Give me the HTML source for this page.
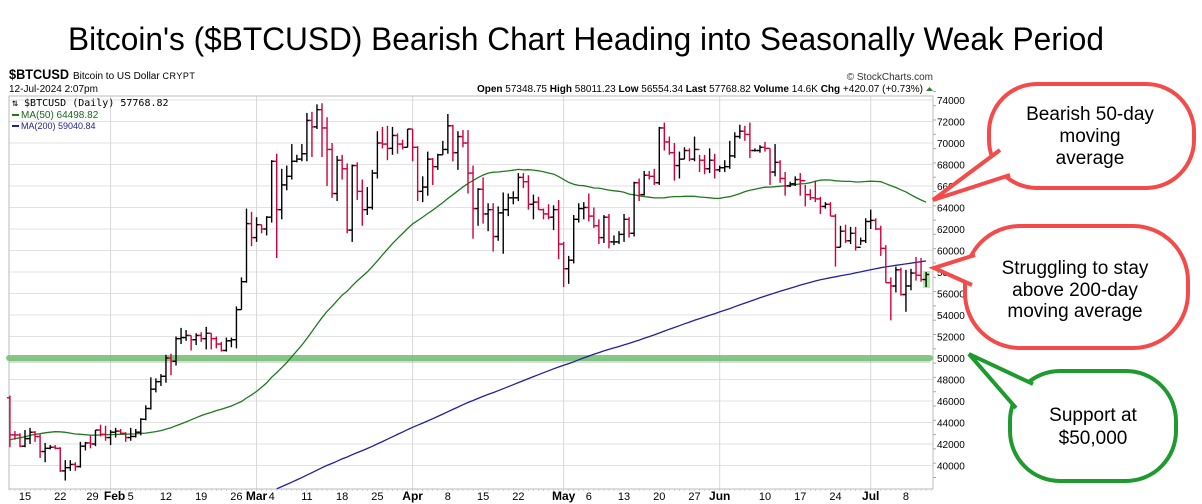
<!DOCTYPE html>
<html><head><meta charset="utf-8"><style>
html,body{margin:0;padding:0;background:#fff;}
svg{display:block;font-family:"Liberation Sans",Arial,sans-serif;}
</style></head><body>
<svg id="chart" width="1202" height="504" viewBox="0 0 1202 504" xmlns="http://www.w3.org/2000/svg">
<text x="586" y="50" font-size="32" text-anchor="middle" textLength="1036" lengthAdjust="spacingAndGlyphs" fill="#000">Bitcoin's ($BTCUSD) Bearish Chart Heading into Seasonally Weak Period</text>
<g>
<text x="9" y="79" font-size="14" font-weight="bold" textLength="60" lengthAdjust="spacingAndGlyphs">$BTCUSD</text>
<text x="73" y="79" font-size="10">Bitcoin to US Dollar <tspan font-size="9" letter-spacing="0.5">CRYPT</tspan></text>
<text x="9" y="92" font-size="10">12-Jul-2024 2:07pm</text>
<text x="923" y="92" font-size="10" text-anchor="end"><tspan font-weight="bold">Open</tspan> 57348.75 <tspan font-weight="bold">High</tspan> 58011.23 <tspan font-weight="bold">Low</tspan> 56554.34 <tspan font-weight="bold">Last</tspan> 57768.82 <tspan font-weight="bold">Volume</tspan> 14.6K <tspan font-weight="bold">Chg</tspan> +420.07 (+0.73%)</text>
<polygon points="926,91 933,91 929.5,87" fill="#2e7d32"/>
<text x="933" y="80" font-size="10" text-anchor="end" fill="#333">© StockCharts.com</text>
</g>
<g id="grid"></g>
<rect x="9" y="96" width="924" height="393" fill="none" stroke="#bbb" stroke-width="1"/>
<g id="support">
<line x1="9" y1="361" x2="930" y2="361" stroke="#999" stroke-width="4" opacity="0.35"/>
<line x1="9" y1="358" x2="930" y2="358" stroke="#72bf72" stroke-width="6" stroke-linecap="round" opacity="0.85"/>
</g>
<g id="mas"></g>
<g id="bars"></g>
<g id="axes"></g>
<g font-family="'DejaVu Sans Mono','Liberation Mono',monospace" font-size="10">
<text x="12" y="106" fill="#000">⇅ $BTCUSD (Daily) 57768.82</text>
<line x1="12" y1="115" x2="19" y2="115" stroke="#1a7a1a" stroke-width="2"/>
<text x="21" y="118" fill="#1a6a1a" font-family="'Liberation Sans',sans-serif">MA(50) 64498.82</text>
<line x1="12" y1="126" x2="19" y2="126" stroke="#22228a" stroke-width="2"/>
<text x="21" y="129" fill="#22228a" font-family="'Liberation Sans',sans-serif" font-size="9">MA(200) 59040.84</text>
</g>
<g>
<rect x="989" y="84" width="205" height="104" rx="48" fill="#fff" stroke="#f44a4a" stroke-width="4"/>
<path d="M1000,150 L933,200 L1010,175" fill="#fff" stroke="#f44a4a" stroke-width="4" stroke-linejoin="miter"/>
<text x="1090" y="120" font-size="19" text-anchor="middle">Bearish 50-day</text>
<text x="1090" y="142" font-size="19" text-anchor="middle">moving</text>
<text x="1090" y="164" font-size="19" text-anchor="middle">average</text>
</g>
<g>
<rect x="965" y="226" width="223" height="122" rx="55" fill="#fff" stroke="#f44a4a" stroke-width="4"/>
<path d="M975,255 L934,268 L972,285" fill="#fff" stroke="#f44a4a" stroke-width="4"/>
<text x="1075" y="274" font-size="19" text-anchor="middle">Struggling to stay</text>
<text x="1075" y="296" font-size="19" text-anchor="middle">above 200-day</text>
<text x="1075" y="317" font-size="19" text-anchor="middle">moving average</text>
</g>
<g>
<rect x="1010" y="371" width="166" height="110" rx="50" fill="#fff" stroke="#1f9a2f" stroke-width="4"/>
<path d="M1033,384 L969,354 L1016,408" fill="#fff" stroke="#1f9a2f" stroke-width="4"/>
<text x="1093" y="421" font-size="19" text-anchor="middle">Support at</text>
<text x="1093" y="444" font-size="19" text-anchor="middle">$50,000</text>
</g>
</svg>
<script>
// Daily data from 12-Jan-2024 (values in thousands USD)
const startDay = 11; // day-of-year index of first bar (Jan 12)
const closes = [42.85,42.84,41.8,42.5,43.1,42.7,41.3,41.6,41.7,41.6,39.5,39.8,40.1,39.9,41.8,42.1,42.0,43.3,42.9,42.6,
43.1,43.2,43.0,42.6,42.7,43.1,44.3,45.3,47.1,47.8,48.3,50.0,49.7,51.8,51.9,52.1,51.7,52.1,51.8,52.3,51.8,51.3,50.7,51.6,51.7,54.5,57.1,62.5,61.2,
62.4,62.0,63.1,68.3,63.8,66.1,66.9,68.3,68.5,69.0,72.1,71.5,73.1,71.4,69.4,65.3,68.4,67.6,61.9,67.9,65.5,63.8,64.0,67.2,70.0,69.9,69.5,70.7,69.9,69.6,71.3,
69.6,65.5,65.9,68.5,67.8,68.9,69.4,71.6,69.1,70.6,70.0,67.2,63.9,65.7,63.4,63.8,61.3,63.5,63.8,64.9,64.9,66.8,66.4,64.3,64.5,63.8,63.4,63.1,63.8,60.6,
58.3,59.1,62.9,63.9,64.0,63.2,62.3,61.2,63.1,60.8,60.8,61.5,62.9,61.6,66.3,65.2,67.0,66.9,66.3,71.4,70.1,69.1,67.9,68.5,69.3,68.5,69.4,68.4,67.6,68.4,67.5,
67.7,67.8,68.8,70.6,71.1,70.8,69.3,69.3,69.6,69.5,67.3,68.2,66.7,66.0,66.2,66.6,66.5,65.2,64.9,64.8,64.1,64.3,63.2,60.3,61.8,60.9,61.6,60.3,60.9,62.7,
62.8,62.0,60.2,57.0,56.7,58.2,55.9,56.7,57.9,57.7,57.3,57.77];
const highs = [46.5,43.2,43.0,43.3,43.5,43.2,42.9,42.1,41.9,41.9,41.7,40.5,40.5,40.3,42.2,42.2,42.8,43.3,43.8,43.7,
43.3,43.5,43.4,43.1,43.5,43.4,44.4,45.6,48.2,48.1,48.5,50.3,50.4,52.0,52.8,52.6,52.1,52.3,52.4,52.9,52.3,52.0,51.5,51.9,51.9,54.8,57.5,63.9,63.6,
63.1,62.4,63.2,68.4,69.0,67.6,67.9,69.9,68.9,69.9,72.8,72.9,73.6,73.7,72.4,70.0,68.8,68.9,68.1,68.0,68.2,66.6,65.9,67.5,71.1,71.5,71.6,71.5,70.9,70.3,71.3,
71.3,69.7,66.9,69.2,68.6,69.0,70.2,72.7,71.7,71.1,71.2,71.2,67.9,65.8,66.8,64.4,64.4,64.1,65.4,65.3,65.5,67.2,67.2,67.0,65.2,65.0,63.9,64.3,64.2,64.7,
60.8,59.5,63.3,64.4,64.5,65.3,64.0,62.9,63.3,63.4,61.4,61.8,63.4,63.1,66.4,66.7,67.4,67.4,67.6,71.5,71.9,70.6,70.0,69.2,69.6,69.5,70.6,68.9,68.9,69.5,69.0,
67.9,68.4,70.2,71.0,71.7,71.6,71.9,69.5,69.8,70.1,69.5,69.9,68.4,67.3,66.4,66.9,67.2,66.1,65.7,66.5,65.0,64.5,64.5,63.4,62.3,62.4,62.2,62.2,61.2,63.0,
63.8,63.0,62.3,60.5,57.5,58.5,58.4,58.2,58.3,59.4,59.3,58.0];
const lows = [41.7,42.4,41.7,41.7,42.0,42.2,40.7,40.3,41.5,41.5,39.4,38.6,39.5,39.5,39.8,41.4,41.6,41.8,42.7,42.3,
41.9,42.6,42.9,42.2,42.3,42.6,42.8,44.2,45.2,46.8,47.4,47.7,48.4,49.3,51.3,51.6,50.7,51.2,51.5,50.8,50.8,50.9,50.6,50.6,51.0,50.9,54.5,57.0,60.4,
60.8,61.6,61.4,62.6,59.3,62.9,65.6,66.6,68.2,68.3,68.3,68.7,71.3,68.7,66.0,64.9,64.6,66.6,61.6,60.8,64.7,62.3,63.3,63.8,66.7,69.5,68.4,68.9,69.0,69.4,69.6,
68.3,64.6,64.5,65.1,66.1,67.5,68.9,69.0,68.3,67.5,69.6,65.3,61.1,62.3,62.5,61.8,59.9,60.9,59.7,63.2,64.3,64.6,65.8,63.8,62.9,63.8,62.9,62.9,61.9,59.2,
56.6,56.9,58.8,62.6,62.9,62.7,62.1,60.6,60.7,60.2,60.5,60.6,60.8,61.2,61.3,64.6,65.1,66.6,66.1,66.1,69.3,68.9,66.5,66.7,68.5,68.3,68.3,67.3,67.1,67.2,66.7,
67.3,67.3,67.6,68.6,70.4,70.2,68.6,69.2,69.1,69.2,66.1,66.9,66.3,65.1,65.9,66.0,65.1,64.1,64.7,64.5,63.4,63.9,63.2,58.5,60.3,60.7,60.6,60.0,60.5,60.7,
62.0,61.9,59.5,57.0,53.5,56.1,55.8,54.3,56.3,57.2,57.1,56.6];
// Closes prior to the window (26-Jun-2023 .. 11-Jan-2024) used for moving averages
const priorCloses = [30.3,30.7,30.1,30.4,30.5,
30.6,30.6,31.2,31.0,30.8,30.5,29.9,30.3,30.2,30.4,30.6,30.4,30.3,30.6,31.5,30.3,30.3,30.2,29.9,30.1,29.9,29.8,29.9,29.8,30.1,29.2,29.3,29.4,29.2,29.3,29.2,
29.7,29.2,29.2,29.1,29.0,29.0,29.2,29.8,29.6,29.4,29.4,29.4,29.3,29.4,29.2,28.7,26.6,26.1,26.2,26.1,26.2,26.4,26.4,26.1,26.1,26.0,26.1,26.1,27.7,27.3,25.9,
25.8,25.9,25.9,25.9,25.8,25.8,26.2,25.9,25.9,25.8,25.1,25.8,26.2,26.5,26.6,26.6,26.5,26.8,27.2,27.1,26.6,26.6,26.6,26.3,26.3,26.2,26.4,27.0,27.0,27.0,
27.9,27.6,27.4,27.8,27.5,27.9,27.9,27.9,27.6,27.4,26.9,26.8,26.9,26.9,27.2,28.5,28.4,28.3,28.7,29.7,29.9,30.0,33.1,33.9,34.5,34.2,33.9,34.1,34.5,34.5,34.7,
35.4,34.9,34.7,35.1,35.0,35.0,35.4,35.6,36.7,37.3,37.1,37.1,36.5,35.5,37.8,36.2,36.6,36.6,37.4,37.5,35.8,37.4,37.3,37.7,37.8,37.5,37.2,37.8,37.9,37.7,
38.7,39.5,39.9,41.9,44.1,43.8,43.3,44.2,43.8,43.8,41.2,41.5,42.9,43.0,41.9,42.3,41.4,42.7,42.3,43.6,43.9,43.9,43.7,43.0,43.6,42.5,43.4,42.6,42.1,42.2,42.3,
44.2,45.0,42.8,44.2,44.2,44.0,43.9,47.0,46.1,46.6,46.3];
const yTicks = [40000,42000,44000,46000,48000,50000,52000,54000,56000,58000,60000,62000,64000,66000,68000,70000,72000,74000];
const xTickLabels = ["15","22","29","Feb","5","12","19","26","Mar","4","11","18","25","Apr","8","15","22","May","6","13","20","27","Jun","10","17","24","Jul","8"];
const xTickDays = [14,21,28,31,35,42,49,56,60,63,70,77,84,91,98,105,112,121,126,133,140,147,152,161,168,175,182,189];
const monthDays = [31,60,91,121,152,182];

const NS = "http://www.w3.org/2000/svg";
function xDay(d){ return 25 + (d-14)*5.034; }
function yVal(v){ return 100 + (74 - v)*10.75; }
function mk(tag, attrs, parent){ const e=document.createElementNS(NS,tag); for(const k in attrs) e.setAttribute(k,attrs[k]); parent.appendChild(e); return e; }

const grid=document.getElementById('grid'), axes=document.getElementById('axes'), bars=document.getElementById('bars'), mas=document.getElementById('mas');
yTicks.forEach(t=>{
  const y=yVal(t/1000);
  const l=mk('line',{x1:9,x2:933,y1:y,y2:y,stroke:'#e2e2e2','stroke-width':1},grid);
  
  
  const tx=mk('text',{x:937,y:y+4,'font-size':10,fill:'#000'},axes);
  tx.textContent=t;
  
  
});
monthDays.forEach(d=>{
  const x=xDay(d);
  const l=mk('line',{x1:x,x2:x,y1:96,y2:489,stroke:'#d8d8d8','stroke-width':1},grid);
  
  
});
for(let i=0;i<28;i++){
  const y=yVal(74.8)+i*14.3;
  mk('line',{x1:933,x2:936,y1:y,y2:y,stroke:'#aaa','stroke-width':1},axes);
}
xTickLabels.forEach((lab,i)=>{
  const isMonth=/[A-Za-z]/.test(lab);
  let x=xDay(xTickDays[i]);
  if(lab==="29") x-=3;
  if(lab==="Feb") x+=4;
  const tx=mk('text',{x:x,y:500,'font-size':isMonth?12:11,'font-weight':isMonth?'bold':'normal','text-anchor':'middle',fill:'#000'},axes);
  tx.textContent=lab;
  
  
});
for(let d=11; d<=194; d++){ const x=xDay(d); mk('line',{x1:x,x2:x,y1:489,y2:491,stroke:'#bbb','stroke-width':0.6},axes); }

// moving averages
const all = priorCloses.concat(closes);
function ma(n){ const out=[]; for(let i=0;i<closes.length;i++){ const end=priorCloses.length+i+1; const s=all.slice(Math.max(0,end-n),end); out.push(s.reduce((a,b)=>a+b,0)/s.length);} return out; }
function drawLine(vals,color,name){
  let d='';
  vals.forEach((v,i)=>{ const y=Math.min(Math.max(yVal(v),96),489); d+=(i?'L':'M')+xDay(startDay+i).toFixed(1)+','+y.toFixed(1); });
  const p=mk('path',{d:d,fill:'none',stroke:color,'stroke-width':1.3},mas);
  
  
}
const ma50=ma(50), ma200=ma(200);
// clip ma200 segments below chart
(function(){
  let d='';let started=false;
  ma200.forEach((v,i)=>{ const y=yVal(v); if(y>489){started=false;return;} d+=(started?'L':'M')+xDay(startDay+i).toFixed(1)+','+y.toFixed(1); started=true; });
  const p=mk('path',{d:d,fill:'none',stroke:'#22229a','stroke-width':1.3},mas);
  
  
})();
drawLine(ma50,'#1f7a1f','ma50-line');

// last bar highlight
const lx=xDay(startDay+closes.length-1);
const hl=mk('rect',{x:lx-3,y:yVal(highs[highs.length-1])-1,width:7,height:yVal(lows[lows.length-1])-yVal(highs[highs.length-1])+2,fill:'#a8f0a0'},bars);



closes.forEach((c,i)=>{
  const o = i===0 ? 46.3 : closes[i-1];
  const x=xDay(startDay+i);
  const col = c < o ? '#d0003a' : '#000';
  const g=mk('g',{stroke:col,'stroke-width':1.4},bars);
  
  
  mk('line',{x1:x,x2:x,y1:yVal(highs[i]),y2:yVal(lows[i])},g);
  mk('line',{x1:x-3,x2:x,y1:yVal(o),y2:yVal(o)},g);
  mk('line',{x1:x,x2:x+3,y1:yVal(c),y2:yVal(c)},g);
});
</script>
</body></html>
